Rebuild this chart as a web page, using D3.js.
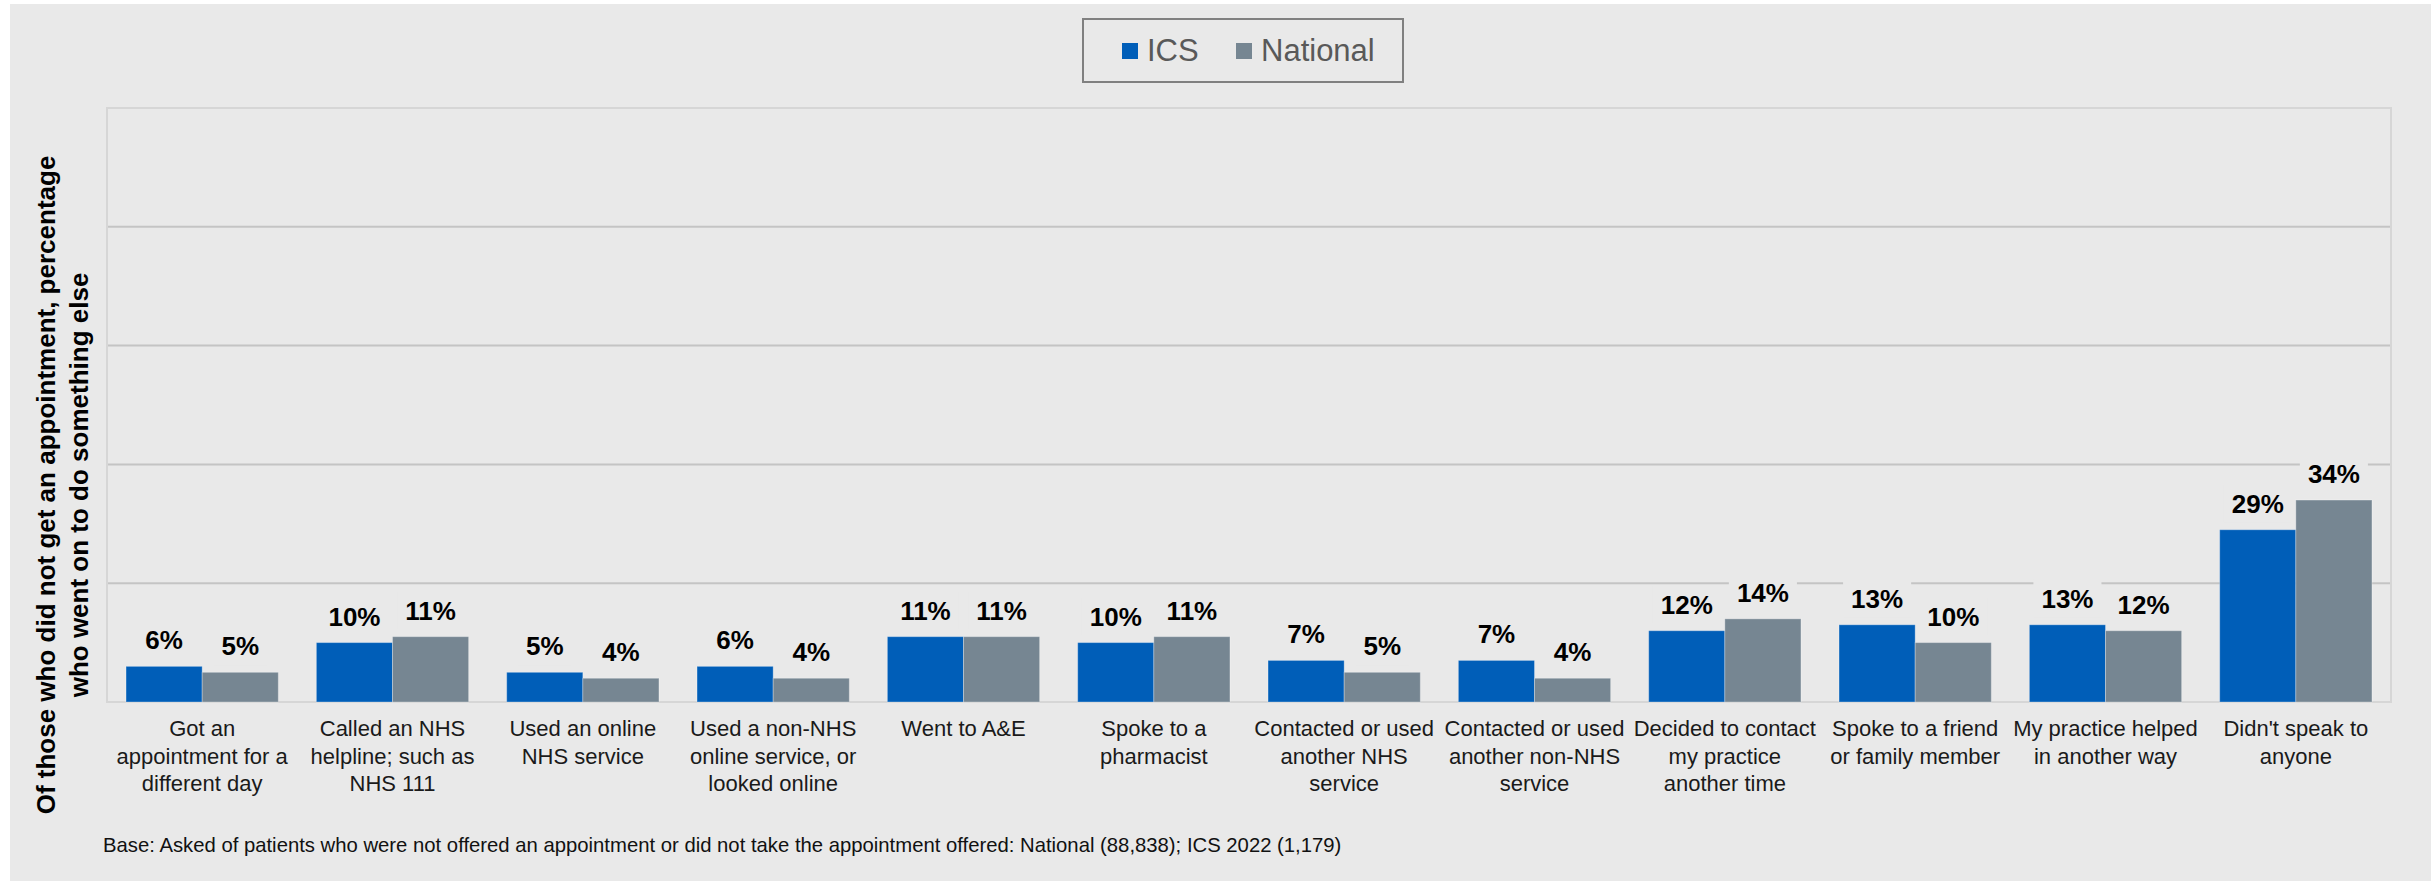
<!DOCTYPE html>
<html>
<head>
<meta charset="utf-8">
<script src="https://cdn.jsdelivr.net/npm/d3@7"></script>
<style>
  body { margin: 0; background: #ffffff; }
  svg { display: block; font-family: Arial, "Liberation Sans", sans-serif; }
</style>
</head>
<body>
<svg id="chart" width="2431" height="881"></svg>
<script>
// categories, line breaks marked with "|"
const categories = [
    "Got an|appointment for a|different day",
    "Called an NHS|helpline; such as|NHS 111",
    "Used an online|NHS service",
    "Used a non-NHS|online service, or|looked online",
    "Went to A&E",
    "Spoke to a|pharmacist",
    "Contacted or used|another NHS|service",
    "Contacted or used|another non-NHS|service",
    "Decided to contact|my practice|another time",
    "Spoke to a friend|or family member",
    "My practice helped|in another way",
    "Didn't speak to|anyone"
];
const icsValues      = [6, 10, 5, 6, 11, 10, 7, 7, 12, 13, 13, 29];
const nationalValues = [5, 11, 4, 4, 11, 11, 5, 4, 14, 10, 12, 34];
const seriesNames = ["ICS", "National"];
const seriesColors = ["#005eb8", "#768692"];
const gridTicks = [0, 20, 40, 60, 80, 100];
const yTitle = ["Of those who did not get an appointment, percentage", "who went on to do something else"];
const baseNote = "Base: Asked of patients who were not offered an appointment or did not take the appointment offered: National (88,838); ICS 2022 (1,179)";

const svg = d3.select("#chart");
const bg = "#e9e9e9";

svg.append("rect")
    .attr("x", 10).attr("y", 4)
    .attr("width", 2421).attr("height", 877)
    .attr("fill", bg);

const plot = { left: 107, right: 2391, top: 108, bottom: 702 };

const xScale = d3.scaleBand()
    .domain(d3.range(categories.length))
    .range([plot.left, plot.right])
    .paddingInner(0.2)
    .paddingOuter(0.1);

const xSub = d3.scaleBand()
    .domain(seriesNames)
    .range([0, xScale.bandwidth()]);

const yScale = d3.scaleLinear()
    .domain([0, 100])
    .range([plot.bottom, plot.top]);

// gridlines
svg.append("g")
    .selectAll("line")
    .data(gridTicks.filter(t => t > 0 && t < 100))
    .enter()
    .append("line")
    .attr("x1", plot.left).attr("x2", plot.right)
    .attr("y1", d => yScale(d)).attr("y2", d => yScale(d))
    .attr("stroke", "#c4c4c4")
    .attr("stroke-width", 2);

// plot frame
svg.append("rect")
    .attr("x", plot.left).attr("y", yScale(100))
    .attr("width", plot.right - plot.left)
    .attr("height", yScale(0) - yScale(100))
    .attr("fill", "none")
    .attr("stroke", "#d6d6d6")
    .attr("stroke-width", 2);

const rows = categories.map((c, i) => ({
    i: i,
    values: [
        { key: "ICS", v: icsValues[i] },
        { key: "National", v: nationalValues[i] }
    ]
}));

const groups = svg.append("g")
    .selectAll("g")
    .data(rows)
    .enter()
    .append("g")
    .attr("transform", d => `translate(${xScale(d.i)},0)`);

groups.selectAll("rect")
    .data(d => d.values)
    .enter()
    .append("rect")
    .attr("x", d => xSub(d.key))
    .attr("y", d => yScale(d.v))
    .attr("width", xSub.bandwidth())
    .attr("height", d => yScale(0) - yScale(d.v))
    .attr("fill", (d, j) => seriesColors[j])
    .attr("stroke", "rgba(255,255,255,0.3)")
    .attr("stroke-width", 1);

// value labels, with a background box that hides the gridlines
const labels = groups.selectAll("g.lbl")
    .data(d => d.values)
    .enter()
    .append("g")
    .attr("class", "lbl")
    .attr("transform", d => `translate(${xSub(d.key) + xSub.bandwidth() / 2},${yScale(d.v) - 17})`);

labels.append("rect").attr("fill", bg);
labels.append("text")
    .attr("text-anchor", "middle")
    .attr("font-size", 26)
    .attr("font-weight", "bold")
    .attr("fill", "#000")
    .text(d => d.v + "%");
labels.each(function() {
    const g = d3.select(this);
    const w = g.select("text").node().getComputedTextLength();
    g.select("rect")
        .attr("x", -w / 2 - 8).attr("y", -28)
        .attr("width", w + 16).attr("height", 38);
});

// category labels
const catText = svg.append("g")
    .selectAll("text")
    .data(categories)
    .enter()
    .append("text")
    .attr("text-anchor", "middle")
    .attr("font-size", 22)
    .attr("fill", "#1a1a1a")
    .attr("transform", (d, i) => `translate(${xScale(i) + xScale.bandwidth() / 2},736)`);

catText.selectAll("tspan")
    .data(d => d.split("|"))
    .enter()
    .append("tspan")
    .attr("x", 0)
    .attr("y", (d, k) => k * 27.5)
    .text(d => d);

// y axis title
const yt = svg.append("text")
    .attr("transform", "translate(0,485) rotate(-90)")
    .attr("text-anchor", "middle")
    .attr("font-size", 26)
    .attr("font-weight", "bold")
    .attr("fill", "#000");
yt.selectAll("tspan")
    .data(yTitle)
    .enter()
    .append("tspan")
    .attr("x", 0)
    .attr("y", (d, k) => 55 + k * 33)
    .text(d => d);

// footnote
svg.append("text")
    .attr("x", 103).attr("y", 852)
    .attr("font-size", 20.3)
    .attr("fill", "#111")
    .text(baseNote);

// legend
const legend = svg.append("g");
legend.append("rect")
    .attr("x", 1083).attr("y", 19)
    .attr("width", 320).attr("height", 63)
    .attr("fill", "none")
    .attr("stroke", "#808080")
    .attr("stroke-width", 2);
const legendX = [1122, 1236];
seriesNames.forEach((name, j) => {
    legend.append("rect")
        .attr("x", legendX[j]).attr("y", 43)
        .attr("width", 16).attr("height", 16)
        .attr("fill", seriesColors[j]);
    legend.append("text")
        .attr("x", legendX[j] + 25).attr("y", 61)
        .attr("font-size", 31)
        .attr("fill", "#595959")
        .text(name);
});
</script>
</body>
</html>
